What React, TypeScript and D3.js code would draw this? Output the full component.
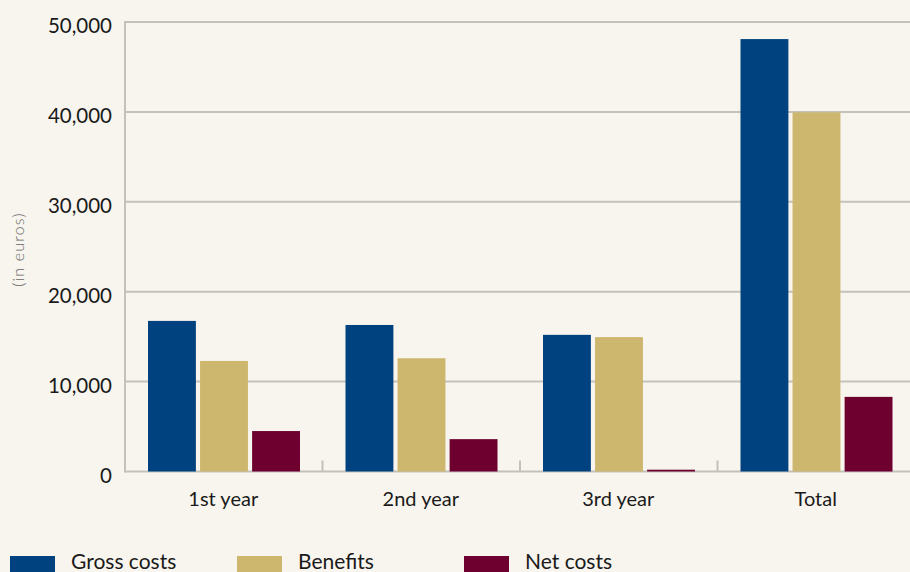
import React from "react";
import * as d3 from "d3";

const categories = ["1st year", "2nd year", "3rd year", "Total"];
const seriesNames = ["Gross costs", "Benefits", "Net costs"];
const grossCosts = [16750, 16300, 15200, 48100];
const benefits = [12300, 12600, 14950, 39950];
const netCosts = [4500, 3600, 200, 8300];
const yTicks = [0, 10000, 20000, 30000, 40000, 50000];

const colors = ["#00427F", "#CDB76E", "#6E0030"];
const W = 910;
const H = 572;
const FONT = "Lato, 'Open Sans', sans-serif";

export default function App() {
  const series = [grossCosts, benefits, netCosts];
  const x0 = d3.scaleBand<string>().domain(categories).range([125, 915]);
  const x1 = d3.scaleBand<string>().domain(seriesNames).range([23, 175]).paddingInner(0.08);
  const y = d3.scaleLinear().domain([0, 50000]).range([471.5, 22]);
  const fmt = d3.format(",");
  const step = x0.step();

  return (
    <svg width={W} height={H} style={{ position: "absolute", left: 0, top: 0, background: "#F8F5EE" }}>
      <rect x={0} y={0} width={W} height={H} fill="#F8F5EE" />
      {yTicks.map((t) => (
        <g key={t}>
          <line x1={125} x2={W} y1={y(t)} y2={y(t)} stroke="#C3C1BC" strokeWidth={2} />
          <text x={112} y={y(t) + 6} textAnchor="end" dominantBaseline="middle" fontFamily={FONT} fontSize={20.5} fill="#1a1a1a">
            {fmt(t)}
          </text>
        </g>
      ))}
      <line x1={125} x2={125} y1={y(50000) - 1} y2={y(0) + 1} stroke="#C3C1BC" strokeWidth={2} />
      {categories.slice(1).map((c) => (
        <line key={c} x1={x0(c)!} x2={x0(c)!} y1={y(0)} y2={y(0) - 11} stroke="#C3C1BC" strokeWidth={2} />
      ))}
      {categories.map((c, ci) => (
        <g key={c} transform={`translate(${x0(c)},0)`}>
          {series.map((s, si) => (
            <rect
              key={si}
              x={x1(seriesNames[si])!}
              width={x1.bandwidth()}
              y={y(s[ci])}
              height={y(0) - y(s[ci])}
              fill={colors[si]}
            />
          ))}
          <text x={step / 2 - 0.5} y={506} textAnchor="middle" fontFamily={FONT} fontSize={20} fill="#1a1a1a">
            {c}
          </text>
        </g>
      ))}
      <text
        transform={`translate(24,249.5) rotate(-90)`}
        textAnchor="middle"
        fontFamily={FONT}
        fontSize={16}
        fontWeight={300}
        letterSpacing={1.2}
        fill="#666"
      >
        (in euros)
      </text>
      {seriesNames.map((n, i) => {
        const lx = [10, 237, 464][i];
        return (
          <g key={n}>
            <rect x={lx} y={556} width={45} height={20} fill={colors[i]} />
            <text x={lx + 61} y={569} fontFamily={FONT} fontSize={21} fill="#1a1a1a">
              {n}
            </text>
          </g>
        );
      })}
    </svg>
  );
}
